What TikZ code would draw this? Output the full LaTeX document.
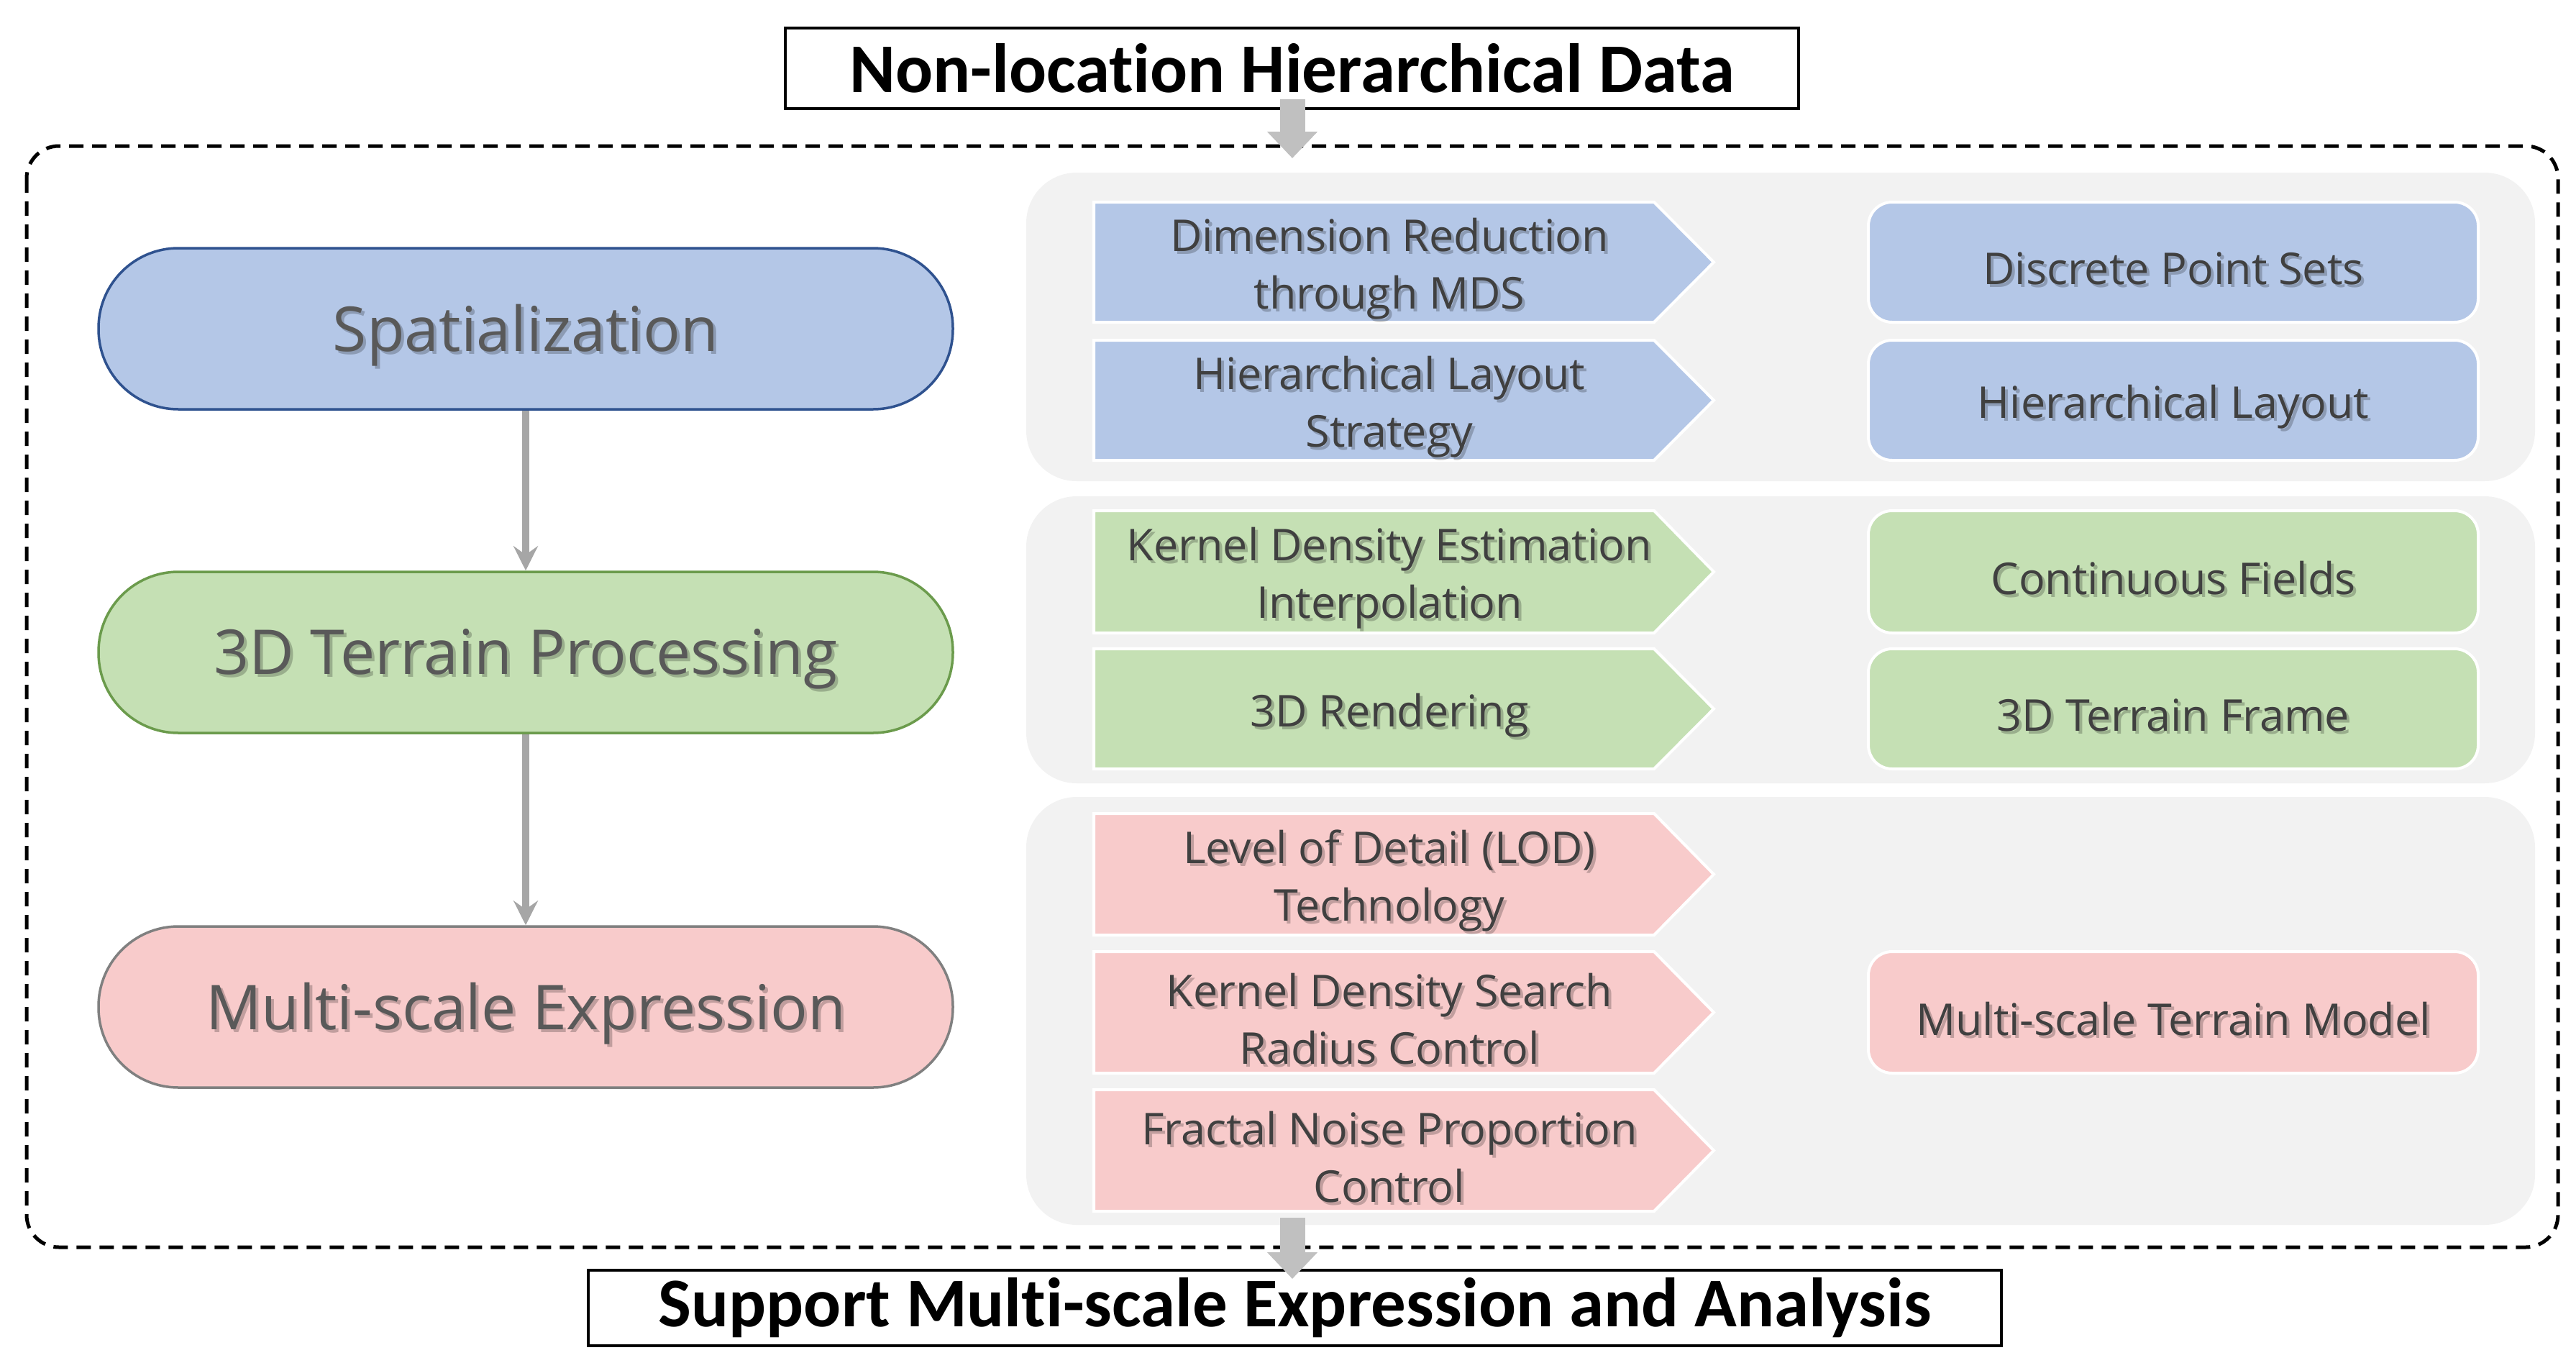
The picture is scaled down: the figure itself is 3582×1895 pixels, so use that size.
\documentclass[tikz,border=0pt]{standalone}
\usepackage{fontspec}
\setmainfont{Open Sans}
\newfontfamily\titlefont[Ligatures=NoCommon]{Carlito}
\usetikzlibrary{arrows.meta}
\definecolor{bluef}{HTML}{B4C7E7}
\definecolor{blued}{HTML}{2F528F}
\definecolor{greenf}{HTML}{C5E0B4}
\definecolor{greend}{HTML}{6B9B4C}
\definecolor{pinkf}{HTML}{F8CBCB}
\definecolor{pinkd}{HTML}{808080}
\definecolor{panelf}{HTML}{F2F2F2}
\definecolor{arrowg}{HTML}{A6A6A6}
\definecolor{blockg}{HTML}{C0C0C0}
\definecolor{txtg}{HTML}{595959}
\definecolor{txtd}{HTML}{404040}
\newcommand\shnode[4]{%
  \node[#2, text=black, text opacity=0.22] (#1-sh) at ([shift={(4,13)}]#3) {#4};
  \node[#2] (#1) at ([shift={(0,9)}]#3) {#4};}
\newcommand\arrowbox[4]{% name, fill, ytop, ybot
  \filldraw[fill=#2, draw=white, line width=4pt] (1521,#3) -- (2300,#3) -- (2383,{(#3+#4)/2}) -- (2300,#4) -- (1521,#4) -- cycle;}
\newcommand\rightbox[3]{% fill, ytop, ybot
  \filldraw[fill=#1, draw=white, line width=4pt, rounded corners=33pt] (2598,#2) rectangle (3446,#3);}
\begin{document}
\begin{tikzpicture}[x=1pt,y=-1pt,
  titlebox/.style={draw=black, fill=white, line width=3.5pt, inner sep=0pt,
    font=\titlefont\bfseries\fontsize{97}{110}\selectfont},
  stadium/.style={rounded corners=111pt, minimum width=1188pt, minimum height=224pt,
    line width=3.5pt, inner sep=0pt},
  stxt/.style={inner sep=0pt, font=\fontsize{86}{100}\selectfont, text=txtg},
  btxt/.style={inner sep=0pt, align=center, font=\fontsize{61}{80}\selectfont, text=txtd},
  conn/.style={draw=arrowg, line width=10pt, -{Stealth[length=34pt,width=34pt,inset=12pt]}},
  blockarr/.style={draw=blockg, line width=35pt, -{Triangle[width=68pt,length=37pt]}},
  frame/.style={draw=black, line width=5pt, dash pattern=on 20pt off 12pt, rounded corners=45pt}
]
\useasboundingbox (0,0) rectangle (3582,1895);
% dashed frame
\draw[frame] (37,203) rectangle (3557,1734);
% panels
\fill[panelf, rounded corners=70pt] (1427,240) rectangle (3525,669);
\fill[panelf, rounded corners=70pt] (1427,690) rectangle (3525,1089);
\fill[panelf, rounded corners=70pt] (1427,1108) rectangle (3525,1703);
% left arrow boxes
\arrowbox{b1}{bluef}{281}{448}
\arrowbox{b2}{bluef}{473}{640}
\arrowbox{b3}{greenf}{710}{880}
\arrowbox{b4}{greenf}{902}{1069}
\arrowbox{b5}{pinkf}{1131}{1300}
\arrowbox{b6}{pinkf}{1323}{1492}
\arrowbox{b7}{pinkf}{1515}{1684}
% right boxes
\rightbox{bluef}{281}{448}
\rightbox{bluef}{473}{640}
\rightbox{greenf}{710}{880}
\rightbox{greenf}{902}{1069}
\rightbox{pinkf}{1323}{1492}
% left texts
\shnode{t1}{btxt}{1932,364.5}{Dimension Reduction\\through MDS}
\shnode{t2}{btxt}{1932,556.5}{Hierarchical Layout\\Strategy}
\shnode{t3}{btxt}{1932,795}{Kernel Density Estimation\\Interpolation}
\shnode{t4}{btxt}{1932,985.5}{3D Rendering}
\shnode{t5}{btxt}{1932,1215.5}{Level of Detail (LOD)\\Technology}
\shnode{t6}{btxt}{1932,1407.5}{Kernel Density Search\\Radius Control}
\shnode{t7}{btxt}{1932,1599.5}{Fractal Noise Proportion\\Control}
% right texts
\shnode{r1}{btxt}{3022,364.5}{Discrete Point Sets}
\shnode{r2}{btxt}{3022,556.5}{Hierarchical Layout}
\shnode{r3}{btxt}{3022,795}{Continuous Fields}
\shnode{r4}{btxt}{3022,985.5}{3D Terrain Frame}
\shnode{r6}{btxt}{3022,1407.5}{Multi-scale Terrain Model}
% stadiums
\node[stadium, fill=bluef, draw=blued] (sp) at (731,457) {};
\node[stadium, fill=greenf, draw=greend] (tp) at (731,907) {};
\node[stadium, fill=pinkf, draw=pinkd] (me) at (731,1400) {};
\shnode{spt}{stxt}{sp.center}{Spatialization}
\shnode{tpt}{stxt}{tp.center}{3D Terrain Processing}
\shnode{met}{stxt}{me.center}{Multi-scale Expression}
\draw[conn] (sp) -- (tp);
\draw[conn] (tp) -- (me);
% titles
\node[titlebox, minimum width=1409pt, minimum height=112pt] (top) at (1796.5,95) {Non-location Hierarchical Data};
\node[titlebox, minimum width=1965pt, minimum height=105pt] (bot) at (1800.5,1818.5) {Support Multi-scale Expression and Analysis};
% block arrows
\coordinate (a1s) at (1797,138);
\coordinate (a1e) at (1797,220);
\coordinate (a2s) at (1797,1693);
\coordinate (a2e) at (1797,1778);
\draw[blockarr] (a1s) -- (a1e);
\draw[blockarr] (a2s) -- (a2e);
\end{tikzpicture}
\end{document}
